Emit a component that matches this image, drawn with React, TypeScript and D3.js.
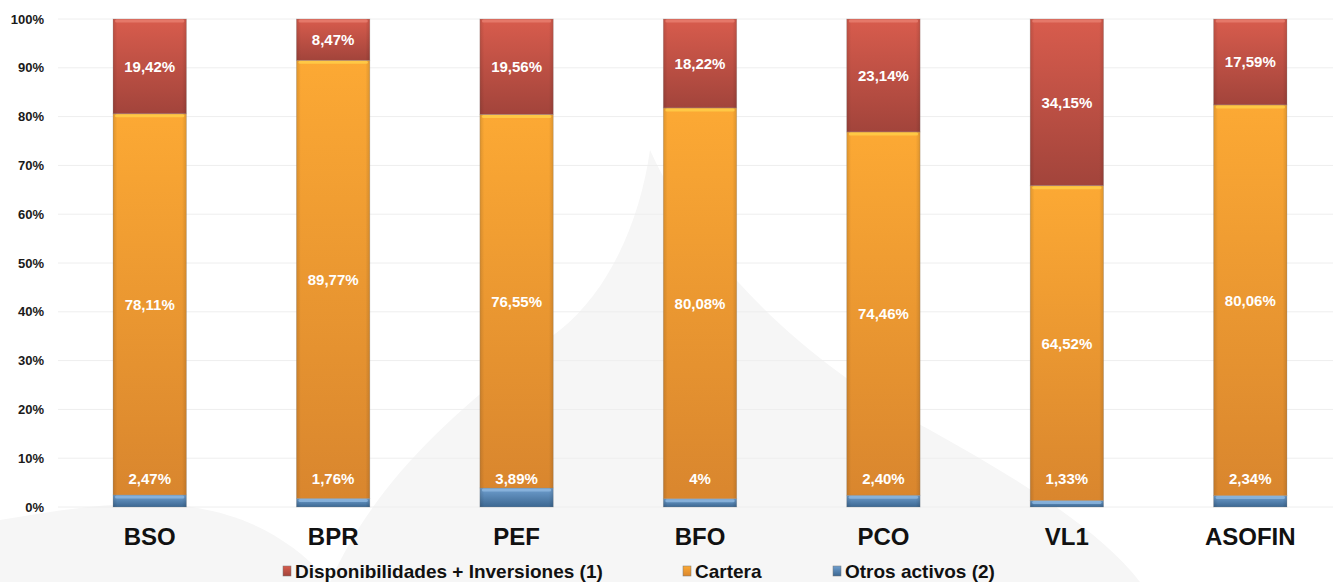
import React from "react";
import * as d3 from "d3";

const categories = ["BSO", "BPR", "PEF", "BFO", "PCO", "VL1", "ASOFIN"];
const otros = [2.47, 1.76, 3.89, 1.7, 2.4, 1.33, 2.34];
const otrosLabels = ["2,47%", "1,76%", "3,89%", "4%", "2,40%", "1,33%", "2,34%"];
const cartera = [78.11, 89.77, 76.55, 80.08, 74.46, 64.52, 80.06];
const disponibilidades = [19.42, 8.47, 19.56, 18.22, 23.14, 34.15, 17.59];
const yTicks = [0, 10, 20, 30, 40, 50, 60, 70, 80, 90, 100];
const legendItems = ["Disponibilidades + Inversiones (1)", "Cartera", "Otros activos (2)"];

const W = 1333;
const H = 582;
const FONT = "'Liberation Sans', Arial, sans-serif";
const fmt = (v: number) => v.toFixed(2).replace(".", ",") + "%";

export default function App() {
  const x = d3.scaleBand<string>().domain(categories).range([58, 1342]).paddingInner(0.6).paddingOuter(0.3);
  const y = d3.scaleLinear().domain([0, 100]).range([507, 19]);
  const bw = x.bandwidth();

  const series = [
    { key: "otros", values: otros, grad: "gBlue", hl: "#8fb8e0" },
    { key: "cartera", values: cartera, grad: "gOrange", hl: "#ffd04a" },
    { key: "disp", values: disponibilidades, grad: "gRed", hl: "#e88070" },
  ];

  const segs: any[] = [];
  categories.forEach((c, i) => {
    let acc = 0;
    series.forEach((s) => {
      const v = s.values[i];
      segs.push({ c, i, key: s.key, y0: acc, y1: acc + v, grad: s.grad, hl: s.hl, v });
      acc += v;
    });
  });

  const legendX = [283, 683, 833];
  const legendGrad = ["gRed", "gOrange", "gBlue"];

  return (
    <svg width={W} height={H} style={{ position: "absolute", left: 0, top: 0, background: "#fff" }}>
      <defs>
        <linearGradient id="gRed" x1="0" y1="0" x2="0" y2="1">
          <stop offset="0" stopColor="#d85c4d" />
          <stop offset="1" stopColor="#a2443b" />
        </linearGradient>
        <linearGradient id="gOrange" x1="0" y1="0" x2="0" y2="1">
          <stop offset="0" stopColor="#fca934" />
          <stop offset="1" stopColor="#d9862e" />
        </linearGradient>
        <linearGradient id="gBlue" x1="0" y1="0" x2="0" y2="1">
          <stop offset="0" stopColor="#6f9fcf" />
          <stop offset="1" stopColor="#3c6791" />
        </linearGradient>
        <linearGradient id="gSide" x1="0" y1="0" x2="1" y2="0">
          <stop offset="0" stopColor="#000" stopOpacity="0.12" />
          <stop offset="0.06" stopColor="#000" stopOpacity="0" />
          <stop offset="0.94" stopColor="#000" stopOpacity="0" />
          <stop offset="1" stopColor="#000" stopOpacity="0.12" />
        </linearGradient>
      </defs>
      <rect x={0} y={0} width={W} height={H} fill="#fff" />
      {/* watermark */}
      <g fill="#f6f6f6">
        <path d="M330,582 C380,470 470,400 560,330 C610,290 640,220 650,150 C700,260 800,360 930,430 C1020,480 1100,530 1140,582 Z" />
        <path d="M0,582 L0,520 C120,500 240,480 330,582 Z" />
      </g>
      {/* gridlines */}
      {yTicks.map((t) => (
        <line key={t} x1={58} x2={W} y1={y(t)} y2={y(t)} stroke="#eeeeee" strokeWidth={1} />
      ))}
      {/* y tick labels */}
      {yTicks.map((t) => (
        <text key={t} x={44} y={y(t) + 4.5} textAnchor="end" fontFamily={FONT} fontWeight="bold" fontSize={13} fill="#1a1a1a">
          {t + "%"}
        </text>
      ))}
      {/* bars */}
      {segs.map((s, k) => {
        const x0 = x(s.c)!;
        const top = y(s.y1);
        const h = y(s.y0) - y(s.y1);
        return (
          <g key={k}>
            <rect x={x0} y={top} width={bw} height={h} fill={`url(#${s.grad})`} stroke="#8a8a8a" strokeOpacity={0.35} strokeWidth={0.8} />
            <rect x={x0} y={top} width={bw} height={h} fill="url(#gSide)" />
            <rect x={x0 + 2} y={top + 0.5} width={bw - 4} height={Math.min(3, h / 2)} fill={s.hl} opacity={0.8} rx={1.5} />
          </g>
        );
      })}
      {/* labels */}
      {categories.map((c, i) => {
        const cx = x(c)! + bw / 2;
        const o = otros[i];
        const ca = cartera[i];
        const d = disponibilidades[i];
        return (
          <g key={c} fontFamily={FONT} fontWeight="bold" fontSize={15} fill="#fff" textAnchor="middle">
            <text x={cx} y={y(o + ca + d / 2) + 5.5}>{fmt(d)}</text>
            <text x={cx} y={y(o + ca / 2) + 5.5}>{fmt(ca)}</text>
            <text x={cx} y={y(0) - 23.5}>{otrosLabels[i]}</text>
          </g>
        );
      })}
      {/* category labels */}
      {categories.map((c) => (
        <text key={c} x={x(c)! + bw / 2} y={545} textAnchor="middle" fontFamily={FONT} fontWeight="bold" fontSize={24} fill="#111">
          {c}
        </text>
      ))}
      {/* legend */}
      {legendItems.map((l, i) => (
        <g key={l}>
          <rect x={legendX[i]} y={566} width={8} height={10} fill={`url(#${legendGrad[i]})`} stroke="#777" strokeWidth={0.5} />
          <text x={legendX[i] + 12} y={578} fontFamily={FONT} fontWeight="bold" fontSize={19} fill="#111">
            {l}
          </text>
        </g>
      ))}
    </svg>
  );
}
